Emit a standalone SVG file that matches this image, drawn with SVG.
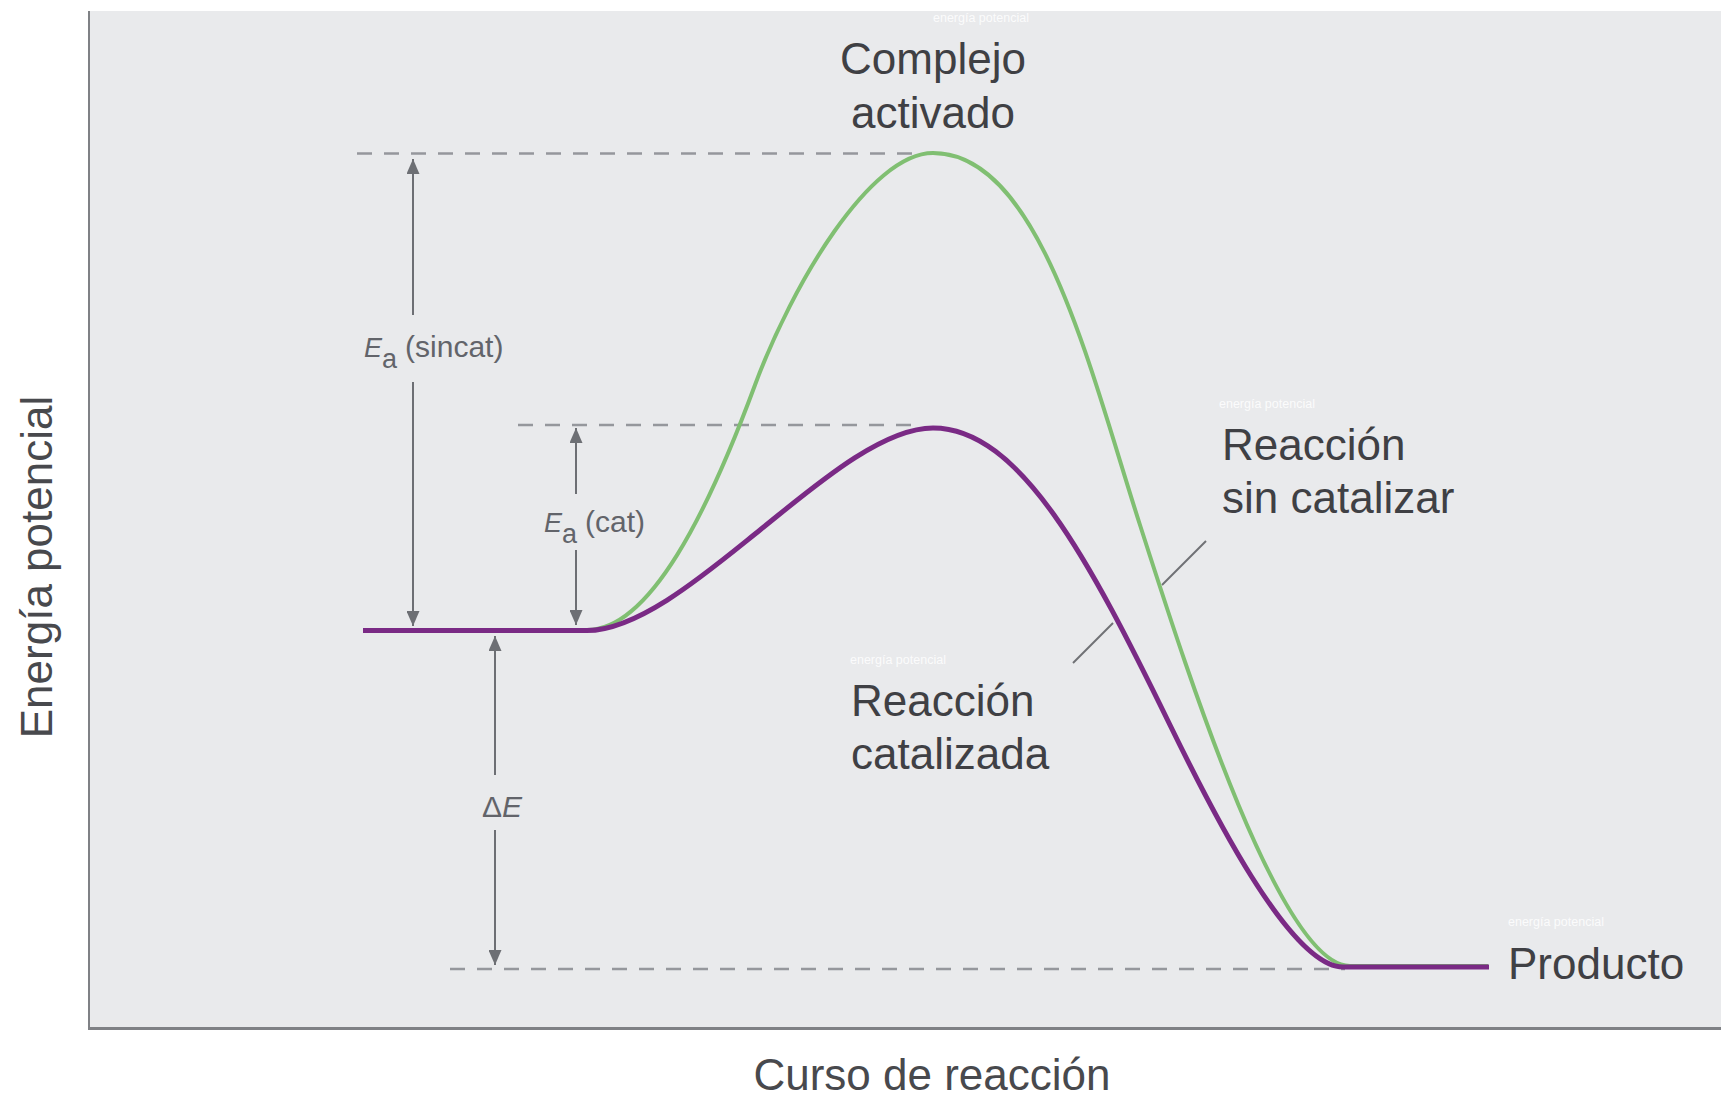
<svg xmlns="http://www.w3.org/2000/svg" width="1721" height="1101" viewBox="0 0 1721 1101">
<style>
  text { font-family: "Liberation Sans", Arial, Helvetica, sans-serif; }
  .lbl { font-size: 44px; fill: #3f4044; }
  .axis { font-size: 44px; fill: #48494d; }
  .ea { font-size: 30px; fill: #62646a; }
  .wm { font-size: 12.5px; fill: #ffffff; fill-opacity: 0.85; }
  .dash { stroke: #95979c; stroke-width: 2.4; stroke-dasharray: 15 12; fill: none; }
  .dim { stroke: #6d6f74; stroke-width: 2; fill: none; }
  .lead { stroke: #6f7175; stroke-width: 2; fill: none; }
  .green { stroke: #80bf72; stroke-width: 4; fill: none; stroke-linejoin: round; }
  .purple { stroke: #7a2a85; stroke-width: 5; fill: none; stroke-linejoin: round; }
</style>
<defs>
  <marker id="ah" viewBox="0 0 15 13" refX="15" refY="6.5" markerWidth="15" markerHeight="13" markerUnits="userSpaceOnUse" orient="auto-start-reverse">
    <path d="M0,0 L15,6.5 L0,13 z" fill="#6d6f74"/>
  </marker>
</defs>
<rect x="0" y="0" width="1721" height="1101" fill="#ffffff"/>
<g id="plot-area">
  <rect x="89" y="11" width="1632" height="1017" fill="#e9eaec"/>
  <line x1="89" y1="11" x2="89" y2="1029" stroke="#7f8185" stroke-width="2"/>
  <line x1="88" y1="1028.5" x2="1721" y2="1028.5" stroke="#7f8185" stroke-width="3"/>
</g>
<g id="watermarks">
  <text class="wm" x="933" y="22">energía potencial</text>
  <text class="wm" x="1219" y="408">energía potencial</text>
  <text class="wm" x="850" y="664">energía potencial</text>
  <text class="wm" x="1508" y="926">energía potencial</text>
</g>
<g id="reference-lines">
  <line class="dash" x1="357" y1="153.5" x2="918" y2="153.5"/>
  <line class="dash" x1="518" y1="425" x2="922" y2="425"/>
  <line class="dash" x1="450" y1="969" x2="1345" y2="969"/>
</g>
<g id="connectors">
  <line class="dim" x1="413" y1="315" x2="413" y2="159" marker-end="url(#ah)"/>
  <line class="dim" x1="413" y1="382" x2="413" y2="626" marker-end="url(#ah)"/>
  <line class="dim" x1="576" y1="494" x2="576" y2="428" marker-end="url(#ah)"/>
  <line class="dim" x1="576" y1="550" x2="576" y2="625" marker-end="url(#ah)"/>
  <line class="dim" x1="495" y1="775" x2="495" y2="636" marker-end="url(#ah)"/>
  <line class="dim" x1="495" y1="830" x2="495" y2="965" marker-end="url(#ah)"/>
  <line class="lead" x1="1162" y1="585" x2="1206" y2="541"/>
  <line class="lead" x1="1113" y1="623" x2="1073" y2="663"/>
</g>
<g id="curve-uncatalyzed">
  <path class="green" d="M363,630 L587,630 C650,630 708,512 755,385 C792,285 870,153 933,153 C1040,153 1090,370 1140,525 C1185,665 1280,966 1350,966 L1488,966"/>
</g>
<g id="curve-catalyzed">
  <path class="purple" d="M363,630.5 L587,630.5 C640,630.5 710,570 760,530 C810,490 880,428 933,428 C1020,428 1090,561 1170,725 C1210,807 1290,967 1343,967 L1489,967"/>
</g>
<g id="label-complejo">
  <text class="lbl" x="933" y="74" text-anchor="middle">Complejo</text>
  <text class="lbl" x="933" y="128" text-anchor="middle">activado</text>
</g>
<g id="label-sin-catalizar">
  <text class="lbl" x="1222" y="460">Reacción</text>
  <text class="lbl" x="1222" y="513">sin catalizar</text>
</g>
<g id="label-catalizada">
  <text class="lbl" x="851" y="716">Reacción</text>
  <text class="lbl" x="851" y="769">catalizada</text>
</g>
<g id="label-producto">
  <text class="lbl" x="1508" y="979">Producto</text>
</g>
<g id="label-ea-sincat">
  <text class="ea" x="364" y="357"><tspan font-style="italic" font-size="27">E</tspan><tspan font-size="27" dy="11">a</tspan><tspan dx="8" dy="-11">(sincat)</tspan></text>
</g>
<g id="label-ea-cat">
  <text class="ea" x="544" y="532"><tspan font-style="italic" font-size="27">E</tspan><tspan font-size="27" dy="11">a</tspan><tspan dx="8" dy="-11">(cat)</tspan></text>
</g>
<g id="label-delta-e">
  <text class="ea" x="482" y="817">Δ<tspan font-style="italic">E</tspan></text>
</g>
<g id="axis-labels">
  <text class="axis" transform="translate(52,567) rotate(-90)" text-anchor="middle">Energía potencial</text>
  <text class="axis" x="932" y="1090" text-anchor="middle">Curso de reacción</text>
</g>
</svg>
